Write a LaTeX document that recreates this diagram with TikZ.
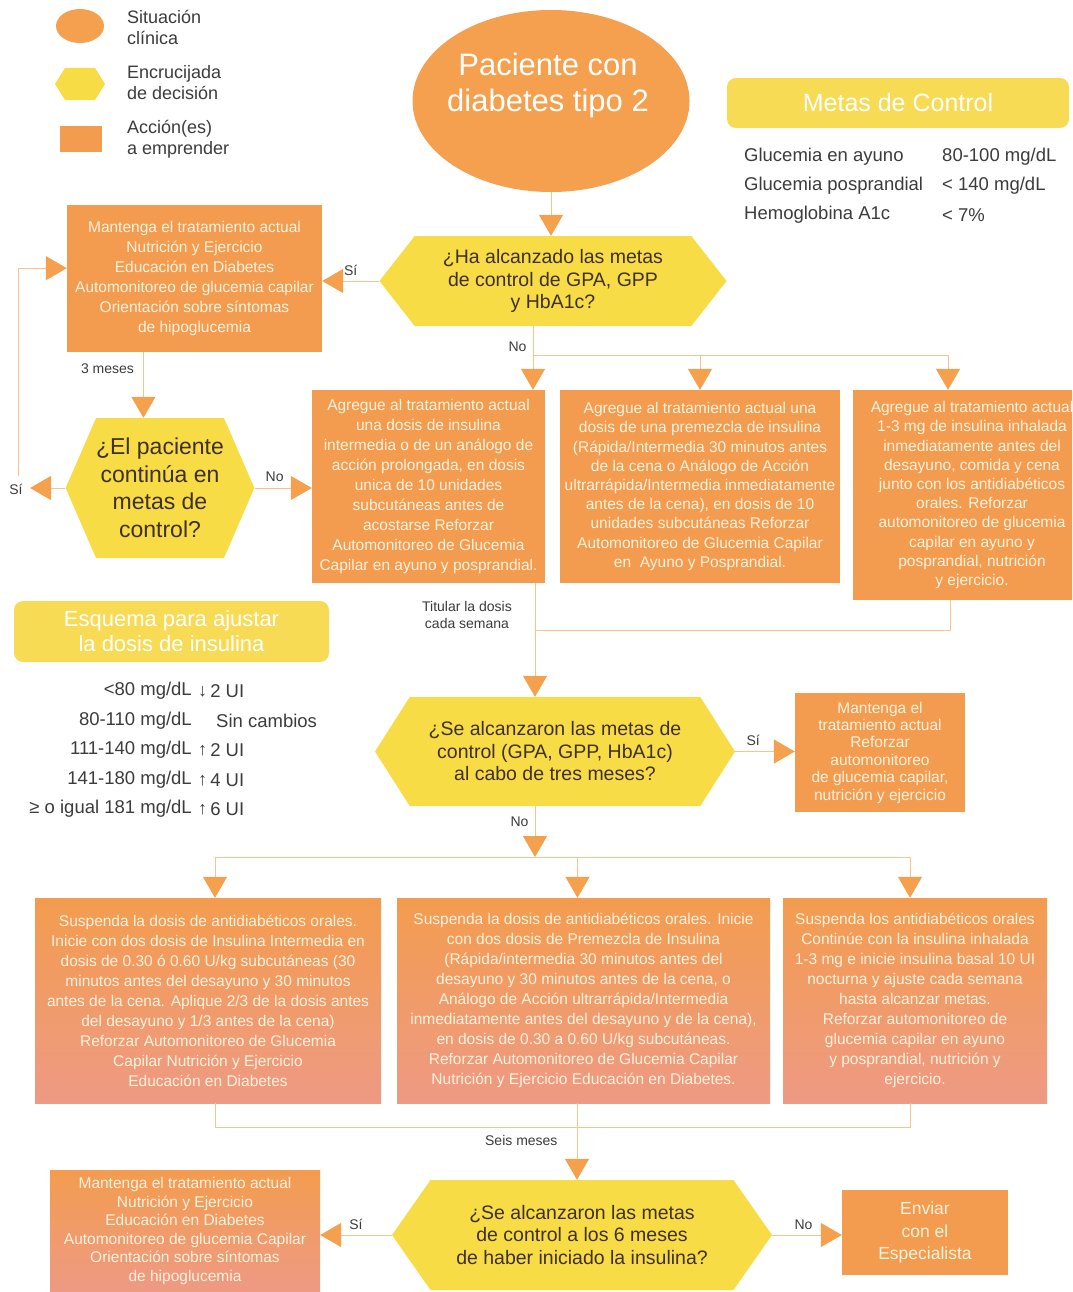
\documentclass[tikz,border=0pt]{standalone}
\usepackage{fontspec}
\setmainfont{Liberation Sans}
\usepackage{tikz}
\usetikzlibrary{calc,shapes.geometric,shapes.symbols,arrows.meta}
\definecolor{boxor}{HTML}{F39C4F}
\definecolor{ellor}{HTML}{F4A04E}
\definecolor{hexye}{HTML}{F8DC45}
\definecolor{headye}{HTML}{F7DB55}
\definecolor{linec}{HTML}{F7C48E}
\definecolor{tipc}{HTML}{F4A04C}
\definecolor{boxtxt}{HTML}{FFF2DE}
\definecolor{hextxt}{HTML}{3E302B}
\definecolor{labtxt}{HTML}{3C3C3C}
\definecolor{pinkor}{HTML}{EE9A84}
\newcommand{\dnarr}{\raisebox{0.5pt}{\fontsize{18}{18}\selectfont↓}}
\newcommand{\uparr}{\raisebox{0.5pt}{\fontsize{18}{18}\selectfont↑}}
\tikzset{
  act/.style={rectangle, fill=boxor, text=boxtxt, align=center, inner sep=0pt, font=\fontsize{15.5}{20}\selectfont},
  actp/.style={act, top color=boxor, middle color=boxor, bottom color=pinkor},
  sit/.style={ellipse, fill=ellor, text=white, align=center, inner sep=0pt},
  dec/.style={signal, signal from=nowhere, signal to=east and west, fill=hexye, text=hextxt, align=center, inner sep=0pt, font=\fontsize{19.5}{22.5}\selectfont},
  head/.style={rectangle, rounded corners=9pt, fill=headye, text=white, align=center},
  flow/.style={draw=linec, line width=1pt, -{Triangle[width=24pt,length=21pt,color=tipc]}},
  link/.style={draw=linec, line width=1pt},
  lab/.style={text=labtxt, inner sep=1pt, font=\fontsize{14}{16.5}\selectfont},
  key/.style={text=labtxt, align=left, anchor=west, inner sep=0pt, font=\fontsize{18}{21}\selectfont},
  row/.style={text=labtxt, inner sep=0pt, font=\fontsize{18.5}{20}\selectfont}
}
\begin{document}
\begin{tikzpicture}[x=1pt, y=-1pt]
  \useasboundingbox (0,0) rectangle (1072,1292);
  \clip (0,0) rectangle (1072,1292);
  \fill[white] (0,0) rectangle (1072,1292);

  % legend
  \node[sit, minimum width=48pt, minimum height=34pt] (lgsit) at (80,26) {};
  \node[dec, signal pointer angle=116, minimum width=50pt, minimum height=32pt] (lgdec) at (80,84) {};
  \node[act, minimum width=42pt, minimum height=26pt] (lgact) at (81,139) {};
  \node[key] (lgsitt) at (127,27) {Situación\\clínica};
  \node[key] (lgdect) at (127,83) {Encrucijada\\de decisión};
  \node[key] (lgactt) at (127,139) {Acción(es)\\a emprender};

  % goals
  \node[head, minimum width=342pt, minimum height=50pt, font=\fontsize{25}{28}\selectfont] (metas) at (898,103) {Metas de Control};
  \node[row, anchor=west] (g1a) at (744,157) {Glucemia en ayuno};
  \node[row, anchor=west] (g1b) at (942,157) {80-100 mg/dL};
  \node[row, anchor=west] (g2a) at (744,186) {Glucemia posprandial};
  \node[row, anchor=west] (g2b) at (942,186) {< 140 mg/dL};
  \node[row, anchor=west] (g3a) at (744,215) {Hemoglobina A1c};
  \node[row, anchor=west] (g3b) at (942,215) {< 7\%};

  % start
  \node[sit, minimum width=277pt, minimum height=182pt] (start) at (551,101) {};
  \node[text=white, align=center, font=\fontsize{31}{36}\selectfont] (startt) at (548,85) {Paciente con\\diabetes tipo 2};

  % first decision
  \node[dec, signal pointer angle=104, minimum width=347pt, minimum height=90pt] (hex1) at (553,281) {¿Ha alcanzado las metas\\de control de GPA, GPP\\y HbA1c?};
  \node[act, minimum width=255pt, minimum height=147pt] (A1) at (194.5,278.5) {Mantenga el tratamiento actual\\Nutrición y Ejercicio\\Educación en Diabetes\\Automonitoreo de glucemia capilar\\Orientación sobre síntomas\\de hipoglucemia};
  \node[dec, signal pointer angle=133, minimum width=180pt, minimum height=140pt, font=\fontsize{23}{27.5}\selectfont] (hex2) at (160,488) {¿El paciente\\continúa en\\metas de\\control?};

  \node[act, minimum width=233pt, minimum height=193pt] (B1) at (428.5,486.5) {Agregue al tratamiento actual\\una dosis de insulina\\intermedia o de un análogo de\\acción prolongada, en dosis\\unica de 10 unidades\\subcutáneas antes de\\acostarse Reforzar\\Automonitoreo de Glucemia\\Capilar en ayuno y posprandial.};
  \node[act, minimum width=280pt, minimum height=193pt, font=\fontsize{15.5}{19.2}\selectfont] (B2) at (700,486.5) {Agregue al tratamiento actual una\\dosis de una premezcla de insulina\\(Rápida/Intermedia 30 minutos antes\\de la cena o Análogo de Acción\\ultrarrápida/Intermedia inmediatamente\\antes de la cena), en dosis de 10\\unidades subcutáneas Reforzar\\Automonitoreo de Glucemia Capilar\\en\ \ Ayuno y Posprandial.};
  \node[act, minimum width=238pt, minimum height=210pt, font=\fontsize{15.5}{19.2}\selectfont] (B3) at (972,495) {Agregue al tratamiento actual\\1-3 mg de insulina inhalada\\inmediatamente antes del\\desayuno, comida y cena\\junto con los antidiabéticos\\orales. Reforzar\\automonitoreo de glucemia\\capilar en ayuno y\\posprandial, nutrición\\y ejercicio.};

  % dose scheme
  \node[head, minimum width=315pt, minimum height=61pt, font=\fontsize{22}{25}\selectfont] (esq) at (171.5,631.5) {Esquema para ajustar\\la dosis de insulina};
  \node[row, anchor=east] (r1a) at (192,691) {<80 mg/dL};
  \node[row, anchor=west] (r1b) at (198,691) {\dnarr\,2 UI};
  \node[row, anchor=east] (r2a) at (192,721) {80-110 mg/dL};
  \node[row, anchor=west] (r2b) at (216,721) {Sin cambios};
  \node[row, anchor=east] (r3a) at (192,750) {111-140 mg/dL};
  \node[row, anchor=west] (r3b) at (198,750) {\uparr\,2 UI};
  \node[row, anchor=east] (r4a) at (192,780) {141-180 mg/dL};
  \node[row, anchor=west] (r4b) at (198,780) {\uparr\,4 UI};
  \node[row, anchor=east] (r5a) at (192,809) {≥ o igual 181 mg/dL};
  \node[row, anchor=west] (r5b) at (198,809) {\uparr\,6 UI};

  % three months
  \node[dec, signal pointer angle=115, minimum width=360pt, minimum height=109pt] (hex3) at (555,751.5) {¿Se alcanzaron las metas de\\control (GPA, GPP, HbA1c)\\al cabo de tres meses?};
  \node[act, minimum width=170pt, minimum height=119pt, font=\fontsize{15.5}{17.4}\selectfont] (C) at (880,752.5) {Mantenga el\\tratamiento actual\\Reforzar\\automonitoreo\\de glucemia capilar,\\nutrición y ejercicio};

  \node[actp, minimum width=346pt, minimum height=205pt] (D1) at (208,1000.5) {Suspenda la dosis de antidiabéticos orales.\\Inicie con dos dosis de Insulina Intermedia en\\dosis de 0.30 ó 0.60 U/kg subcutáneas (30\\minutos antes del desayuno y 30 minutos\\antes de la cena. Aplique 2/3 de la dosis antes\\del desayuno y 1/3 antes de la cena)\\Reforzar Automonitoreo de Glucemia\\Capilar Nutrición y Ejercicio\\Educación en Diabetes};
  \node[actp, minimum width=373pt, minimum height=205pt] (D2) at (583.5,1000.5) {Suspenda la dosis de antidiabéticos orales. Inicie\\con dos dosis de Premezcla de Insulina\\(Rápida/intermedia 30 minutos antes del\\desayuno y 30 minutos antes de la cena, o\\Análogo de Acción ultrarrápida/Intermedia\\inmediatamente antes del desayuno y de la cena),\\en dosis de 0.30 a 0.60 U/kg subcutáneas.\\Reforzar Automonitoreo de Glucemia Capilar\\Nutrición y Ejercicio Educación en Diabetes.};
  \node[actp, minimum width=264pt, minimum height=205pt] (D3) at (915,1000.5) {Suspenda los antidiabéticos orales\\Continúe con la insulina inhalada\\1-3 mg e inicie insulina basal 10 UI\\nocturna y ajuste cada semana\\hasta alcanzar metas.\\Reforzar automonitoreo de\\glucemia capilar en ayuno\\y posprandial, nutrición y\\ejercicio.};

  % six months
  \node[dec, signal pointer angle=110, minimum width=380pt, minimum height=110pt] (hex4) at (582,1235) {¿Se alcanzaron las metas\\de control a los 6 meses\\de haber iniciado la insulina?};
  \node[actp, minimum width=270pt, minimum height=122pt, font=\fontsize{15.5}{18.5}\selectfont] (E1) at (185,1231) {Mantenga el tratamiento actual\\Nutrición y Ejercicio\\Educación en Diabetes\\Automonitoreo de glucemia Capilar\\Orientación sobre síntomas\\de hipoglucemia};
  \node[act, minimum width=166pt, minimum height=85pt, font=\fontsize{17.5}{22.5}\selectfont] (E2) at (925,1232.5) {Enviar\\con el\\Especialista};

  % connectors
  \draw[flow] (start.south) -- (start.south |- hex1.north);
  \draw[flow] (hex1.west) -- (hex1.west -| A1.east) node[lab, midway, above=4pt] {Sí};
  \draw[flow] ($(A1.south west)!0.3!(A1.south east)$) coordinate (a1out) -- (a1out |- hex2.north) node[lab, pos=0.25, left=8pt] {3 meses};
  \coordinate (siend) at (30,488);
  \draw[flow] (hex2.west) -- (siend);
  \node[lab] (si2) at (16,489) {Sí};
  \coordinate (loopst) at (18,476);
  \draw[flow] (loopst) |- ($(A1.north west)!0.43!(A1.south west)$);
  \draw[flow] (hex2.east) -- (hex2.east -| B1.west) node[lab, pos=0.35, above=5pt] {No};

  \coordinate (nob) at (533,355);
  \coordinate (nob3) at (948,355);
  \draw[link] (hex1.south -| nob) -- (nob) node[lab, pos=0.7, left=5pt] {No};
  \draw[link] (nob) -- (nob3);
  \draw[flow] (nob) -- (nob |- B1.north);
  \draw[flow] (nob -| B2.north) -- (B2.north);
  \draw[flow] (nob3) -- (nob3 |- B3.north);

  \coordinate (tit) at (535,630);
  \coordinate (tit3) at (950,630);
  \draw[link] (B1.south -| tit) -- (tit);
  \draw[link] (tit3 |- B3.south) -- (tit3) -- (tit);
  \draw[flow] (tit) -- (tit |- hex3.north);
  \node[lab, align=center] (titl) at (467,615) {Titular la dosis\\cada semana};

  \draw[flow] (hex3.east) -- (hex3.east -| C.west) node[lab, pos=0.3, above=4pt] {Sí};
  \coordinate (nod) at (535,857);
  \coordinate (nodl) at (215,857);
  \coordinate (nodr) at (910,857);
  \draw[flow] (hex3.south -| nod) -- (nod) node[lab, pos=0.3, left=5pt] {No};
  \draw[link] (nodl) -- (nodr);
  \draw[flow] (nodl) -- (nodl |- D1.north);
  \draw[flow] (D2.north |- nodl) ++(-6,0) coordinate (nod2) -- (nod2 |- D2.north);
  \draw[flow] (nodr) -- (nodr |- D3.north);

  \coordinate (six) at (577,1127);
  \coordinate (sixl) at (215,1127);
  \coordinate (sixr) at (910,1127);
  \draw[link] (sixl |- D1.south) -- (sixl) -- (sixr) -- (sixr |- D3.south);
  \draw[link] (six |- D2.south) -- (six);
  \draw[flow] (six) -- (six |- hex4.north) node[lab, pos=0.25, left=18pt] {Seis meses};
  \draw[flow] (hex4.west) -- (hex4.west -| E1.east) node[lab, midway, above=4pt] {Sí};
  \draw[flow] (hex4.east) -- (hex4.east -| E2.west) node[lab, pos=0.45, above=4pt] {No};
\end{tikzpicture}
\end{document}
